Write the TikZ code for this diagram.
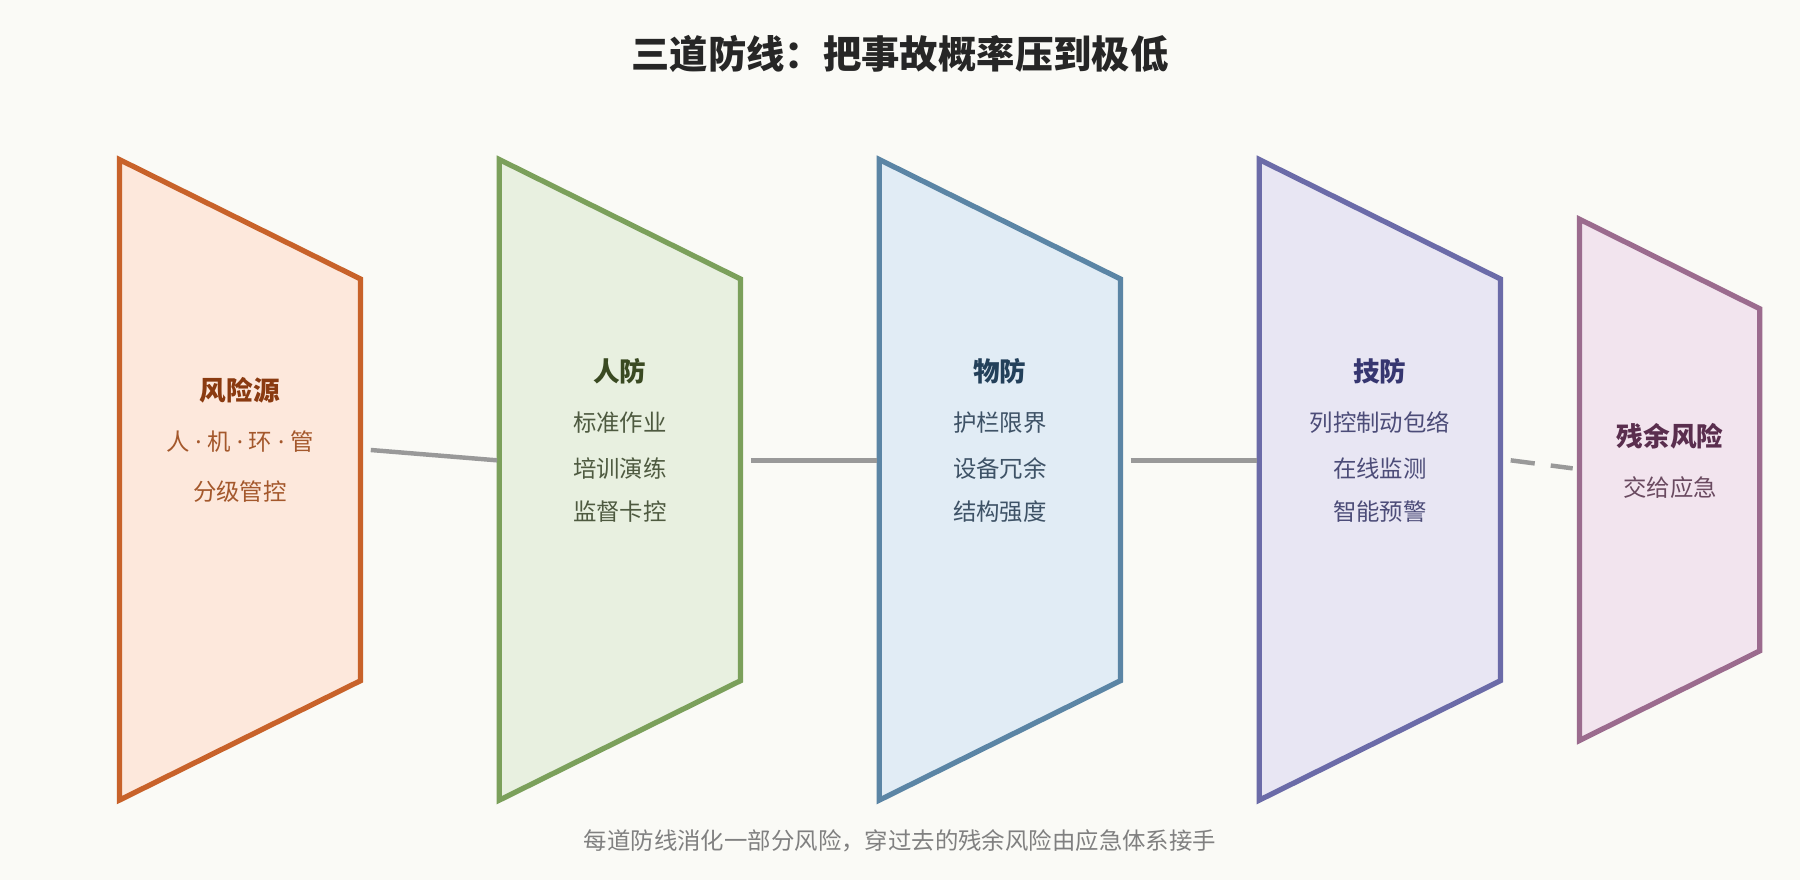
\documentclass[tikz,border=0pt]{standalone}
\usepackage{fontspec}
\setmainfont{Noto Sans CJK SC}
\newfontfamily\dotfont{Noto Sans}
\newcommand{\sepdot}{\hspace{0.25em}{\dotfont ·}\hspace{0.25em}}
\usetikzlibrary{positioning}
\definecolor{bgc}{HTML}{FAFAF6}
\definecolor{srcD}{HTML}{C8622A}\definecolor{srcF}{HTML}{FDE8DC}\definecolor{srcT}{HTML}{8A3A10}\definecolor{srcS}{HTML}{A4582C}
\definecolor{humD}{HTML}{7BA05B}\definecolor{humF}{HTML}{E8F0E0}\definecolor{humT}{HTML}{3A4A22}\definecolor{humS}{HTML}{4E5A40}
\definecolor{phyD}{HTML}{5B85A5}\definecolor{phyF}{HTML}{E1ECF5}\definecolor{phyT}{HTML}{23405A}\definecolor{phyS}{HTML}{3E5266}
\definecolor{tecD}{HTML}{6B6BA8}\definecolor{tecF}{HTML}{E8E6F3}\definecolor{tecT}{HTML}{363670}\definecolor{tecS}{HTML}{4C4C78}
\definecolor{resD}{HTML}{9B6B8E}\definecolor{resF}{HTML}{F2E4EE}\definecolor{resT}{HTML}{5A2E4E}\definecolor{resS}{HTML}{6A4A60}
\begin{document}
\begin{tikzpicture}[x=0.01cm,y=-0.01cm]
    \tikzset{layer/.style={line width=1.3pt,line join=miter},
        head/.style={font=\fontsize{6.6}{8}\selectfont\bfseries},
        item/.style={font=\fontsize{5.8}{7}\selectfont},
        link/.style={draw=black!40,line width=1.1pt}}
    \fill[bgc] (0,0) rectangle (1568,767);
    \useasboundingbox (0,0) rectangle (1568,767);

    \node[font=\fontsize{9.5}{11}\selectfont\bfseries,text=black!85] (title) at (784,47) {三道防线：把事故概率压到极低};

    % layers
    \draw[layer,draw=srcD,fill=srcF] (104,139) -- (314,243) -- (314,593) -- (104,697) -- cycle;
    \draw[layer,draw=humD,fill=humF] (435,139) -- (645,243) -- (645,593) -- (435,697) -- cycle;
    \draw[layer,draw=phyD,fill=phyF] (766,139) -- (976,243) -- (976,593) -- (766,697) -- cycle;
    \draw[layer,draw=tecD,fill=tecF] (1097,139) -- (1307,243) -- (1307,593) -- (1097,697) -- cycle;
    \draw[layer,draw=resD,fill=resF] (1376,191) -- (1533,269) -- (1533,567) -- (1376,645) -- cycle;

    % texts
    \node[head,text=srcT] (S-h) at (209,340) {风险源};
    \node[item,text=srcS] (S-1) at (209,385) {人\sepdot 机\sepdot 环\sepdot 管};
    \node[item,text=srcS] (S-2) at (209,428) {分级管控};

    \node[head,text=humT] (H-h) at (540,323) {人防};
    \node[item,text=humS] (H-1) at (540,368) {标准作业};
    \node[item,text=humS] (H-2) at (540,408) {培训演练};
    \node[item,text=humS] (H-3) at (540,446) {监督卡控};

    \node[head,text=phyT] (P-h) at (871,323) {物防};
    \node[item,text=phyS] (P-1) at (871,368) {护栏限界};
    \node[item,text=phyS] (P-2) at (871,408) {设备冗余};
    \node[item,text=phyS] (P-3) at (871,446) {结构强度};

    \node[head,text=tecT] (T-h) at (1202,323) {技防};
    \node[item,text=tecS] (T-1) at (1202,368) {列控制动包络};
    \node[item,text=tecS] (T-2) at (1202,408) {在线监测};
    \node[item,text=tecS] (T-3) at (1202,446) {智能预警};

    \node[head,text=resT] (R-h) at (1455,380) {残余风险};
    \node[item,text=resS] (R-1) at (1455,425) {交给应急};

    % links
    \coordinate (S-out) at (323,392);  \coordinate (H-in) at (433,401);
    \coordinate (H-out) at (654,401);  \coordinate (P-in) at (764,401);
    \coordinate (P-out) at (985,401);  \coordinate (T-in) at (1095,401);
    \coordinate (T-out) at (1316,401); \coordinate (R-in) at (1370,408);
    \draw[link] (S-out) -- (H-in);
    \draw[link] (H-out) -- (P-in);
    \draw[link] (P-out) -- (T-in);
    \draw[link,dash pattern=on 6pt off 4pt] (T-out) -- (R-in);

    \node[item,text=black!50] (note) at (784,732) {每道防线消化一部分风险，穿过去的残余风险由应急体系接手};
\end{tikzpicture}
\end{document}
